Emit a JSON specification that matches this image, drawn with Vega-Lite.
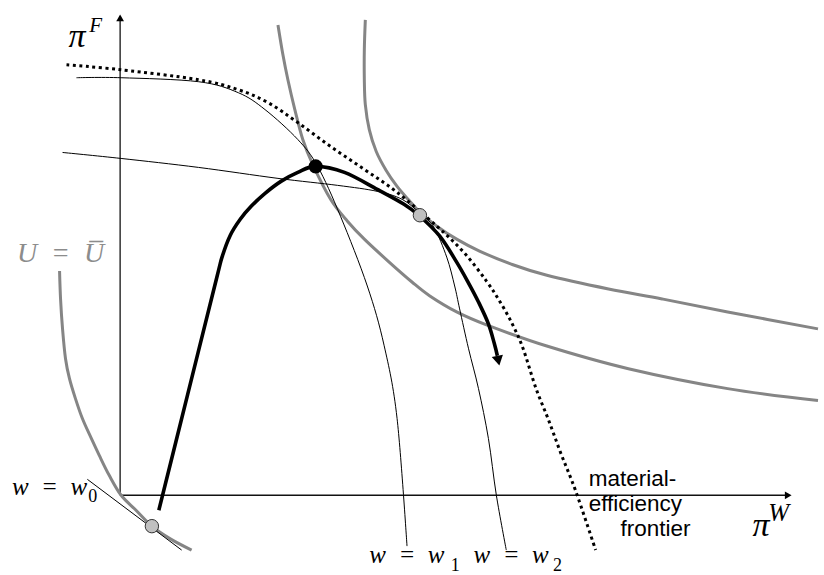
{
  "$schema": "https://vega.github.io/schema/vega-lite/v6.json",
  "width": 824,
  "height": 575,
  "autosize": {"type": "fit", "contains": "padding"},
  "padding": 0,
  "background": "white",
  "config": {"view": {"stroke": null}},
  "datasets": {
    "axes": [
      {"c": "v", "i": 0, "x": 0, "y": 0}, {"c": "v", "i": 1, "x": 0, "y": 481},
      {"c": "h", "i": 0, "x": 0, "y": 0}, {"c": "h", "i": 1, "x": 672, "y": 0}
    ],
    "gray": [
      {"c": "L", "i": 0, "x": -61, "y": 225}, {"c": "L", "i": 1, "x": -60, "y": 197}, {"c": "L", "i": 2, "x": -58, "y": 167},
      {"c": "L", "i": 3, "x": -55, "y": 137}, {"c": "L", "i": 4, "x": -51, "y": 117}, {"c": "L", "i": 5, "x": -45, "y": 97},
      {"c": "L", "i": 6, "x": -38, "y": 77}, {"c": "L", "i": 7, "x": -29, "y": 57}, {"c": "L", "i": 8, "x": -21, "y": 40},
      {"c": "L", "i": 9, "x": -11, "y": 20}, {"c": "L", "i": 10, "x": 1, "y": 0}, {"c": "L", "i": 11, "x": 16, "y": -15},
      {"c": "L", "i": 12, "x": 32, "y": -31}, {"c": "L", "i": 13, "x": 51, "y": -44}, {"c": "L", "i": 14, "x": 72, "y": -55},
      {"c": "M", "i": 0, "x": 159, "y": 472}, {"c": "M", "i": 1, "x": 164, "y": 442}, {"c": "M", "i": 2, "x": 169, "y": 417},
      {"c": "M", "i": 3, "x": 176, "y": 387}, {"c": "M", "i": 4, "x": 184, "y": 357}, {"c": "M", "i": 5, "x": 194, "y": 332},
      {"c": "M", "i": 6, "x": 212, "y": 297}, {"c": "M", "i": 7, "x": 229, "y": 275}, {"c": "M", "i": 8, "x": 246, "y": 257},
      {"c": "M", "i": 9, "x": 271, "y": 234}, {"c": "M", "i": 10, "x": 294, "y": 214}, {"c": "M", "i": 11, "x": 312, "y": 200},
      {"c": "M", "i": 12, "x": 339, "y": 184}, {"c": "M", "i": 13, "x": 369, "y": 171}, {"c": "M", "i": 14, "x": 429, "y": 150},
      {"c": "M", "i": 15, "x": 512, "y": 127}, {"c": "M", "i": 16, "x": 612, "y": 107}, {"c": "M", "i": 17, "x": 703, "y": 95},
      {"c": "R", "i": 0, "x": 247, "y": 477}, {"c": "R", "i": 1, "x": 246, "y": 447}, {"c": "R", "i": 2, "x": 246, "y": 417},
      {"c": "R", "i": 3, "x": 247, "y": 392}, {"c": "R", "i": 4, "x": 251, "y": 367}, {"c": "R", "i": 5, "x": 258, "y": 345},
      {"c": "R", "i": 6, "x": 268, "y": 326}, {"c": "R", "i": 7, "x": 279, "y": 310}, {"c": "R", "i": 8, "x": 291, "y": 296},
      {"c": "R", "i": 9, "x": 302, "y": 284}, {"c": "R", "i": 10, "x": 319, "y": 270}, {"c": "R", "i": 11, "x": 339, "y": 257},
      {"c": "R", "i": 12, "x": 362, "y": 245}, {"c": "R", "i": 13, "x": 394, "y": 232}, {"c": "R", "i": 14, "x": 429, "y": 221},
      {"c": "R", "i": 15, "x": 492, "y": 207}, {"c": "R", "i": 16, "x": 546, "y": 197}, {"c": "R", "i": 17, "x": 612, "y": 184},
      {"c": "R", "i": 18, "x": 703, "y": 167}
    ],
    "thin": [
      {"c": "w1", "i": 0, "x": -44, "y": 419}, {"c": "w1", "i": 1, "x": 1, "y": 419}, {"c": "w1", "i": 2, "x": 79, "y": 415},
      {"c": "w1", "i": 3, "x": 119, "y": 404}, {"c": "w1", "i": 4, "x": 146, "y": 387}, {"c": "w1", "i": 5, "x": 179, "y": 357},
      {"c": "w1", "i": 6, "x": 199, "y": 330}, {"c": "w1", "i": 7, "x": 222, "y": 280}, {"c": "w1", "i": 8, "x": 249, "y": 210},
      {"c": "w1", "i": 9, "x": 266, "y": 150}, {"c": "w1", "i": 10, "x": 279, "y": 77}, {"c": "w1", "i": 11, "x": 289, "y": -51},
      {"c": "w2", "i": 0, "x": -58, "y": 344}, {"c": "w2", "i": 1, "x": 1, "y": 338}, {"c": "w2", "i": 2, "x": 79, "y": 329},
      {"c": "w2", "i": 3, "x": 159, "y": 318}, {"c": "w2", "i": 4, "x": 219, "y": 311}, {"c": "w2", "i": 5, "x": 259, "y": 305},
      {"c": "w2", "i": 6, "x": 284, "y": 297}, {"c": "w2", "i": 7, "x": 302, "y": 283}, {"c": "w2", "i": 8, "x": 316, "y": 269},
      {"c": "w2", "i": 9, "x": 329, "y": 239}, {"c": "w2", "i": 10, "x": 337, "y": 210}, {"c": "w2", "i": 11, "x": 342, "y": 187},
      {"c": "w2", "i": 12, "x": 351, "y": 147}, {"c": "w2", "i": 13, "x": 361, "y": 107}, {"c": "w2", "i": 14, "x": 371, "y": 57},
      {"c": "w2", "i": 15, "x": 379, "y": 0}, {"c": "w2", "i": 16, "x": 389, "y": -55},
      {"c": "w0", "i": 0, "x": -33, "y": 16}, {"c": "w0", "i": 1, "x": 62, "y": -55}
    ],
    "frontier": [
      {"i": 0, "x": -54, "y": 432}, {"i": 1, "x": 1, "y": 427}, {"i": 2, "x": 79, "y": 417}, {"i": 3, "x": 119, "y": 407},
      {"i": 4, "x": 149, "y": 394}, {"i": 5, "x": 179, "y": 374}, {"i": 6, "x": 212, "y": 350}, {"i": 7, "x": 246, "y": 327},
      {"i": 8, "x": 279, "y": 304}, {"i": 9, "x": 319, "y": 270}, {"i": 10, "x": 346, "y": 244}, {"i": 11, "x": 369, "y": 215},
      {"i": 12, "x": 384, "y": 192}, {"i": 13, "x": 396, "y": 170}, {"i": 14, "x": 406, "y": 147}, {"i": 15, "x": 419, "y": 107},
      {"i": 16, "x": 431, "y": 77}, {"i": 17, "x": 444, "y": 42}, {"i": 18, "x": 459, "y": 4}, {"i": 19, "x": 479, "y": -55}
    ],
    "path": [
      {"i": 0, "x": 39, "y": -15}, {"i": 1, "x": 68, "y": 101}, {"i": 2, "x": 97, "y": 217}, {"i": 3, "x": 103, "y": 240},
      {"i": 4, "x": 111, "y": 261}, {"i": 5, "x": 121, "y": 277}, {"i": 6, "x": 132, "y": 290}, {"i": 7, "x": 146, "y": 303},
      {"i": 8, "x": 162, "y": 315}, {"i": 9, "x": 179, "y": 324}, {"i": 10, "x": 197, "y": 330}, {"i": 11, "x": 226, "y": 324},
      {"i": 12, "x": 259, "y": 307}, {"i": 13, "x": 286, "y": 292}, {"i": 14, "x": 302, "y": 280}, {"i": 15, "x": 322, "y": 260},
      {"i": 16, "x": 339, "y": 234}, {"i": 17, "x": 351, "y": 213}, {"i": 18, "x": 361, "y": 194}, {"i": 19, "x": 371, "y": 172},
      {"i": 20, "x": 377, "y": 152}, {"i": 21, "x": 380, "y": 140}
    ]
  },
  "encoding": {
    "x": {"field": "x", "type": "quantitative", "scale": {"domain": [-121, 703], "nice": false, "zero": false}, "axis": null},
    "y": {"field": "y", "type": "quantitative", "scale": {"domain": [-78, 497], "nice": false, "zero": false}, "axis": null}
  },
  "layer": [
    {
      "data": {"name": "axes"},
      "mark": {"type": "line", "color": "#111111", "strokeWidth": 1.3},
      "encoding": {"detail": {"field": "c"}, "order": {"field": "i"}}
    },
    {
      "data": {"values": [{"x": 0, "y": 479}]},
      "mark": {"type": "point", "shape": "triangle-up", "filled": true, "color": "#000000", "size": 60, "opacity": 1}
    },
    {
      "data": {"values": [{"x": 673, "y": 0}]},
      "mark": {"type": "point", "shape": "triangle-right", "filled": true, "color": "#000000", "size": 60, "opacity": 1}
    },
    {
      "data": {"name": "gray"},
      "mark": {"type": "line", "color": "#858585", "strokeWidth": 3, "interpolate": "cardinal"},
      "encoding": {"detail": {"field": "c"}, "order": {"field": "i"}}
    },
    {
      "data": {"name": "thin"},
      "mark": {"type": "line", "color": "#000000", "strokeWidth": 1, "interpolate": "cardinal"},
      "encoding": {"detail": {"field": "c"}, "order": {"field": "i"}}
    },
    {
      "data": {"name": "frontier"},
      "mark": {"type": "line", "color": "#000000", "strokeWidth": 3, "strokeDash": [3, 3.5], "interpolate": "cardinal"},
      "encoding": {"order": {"field": "i"}}
    },
    {
      "data": {"name": "path"},
      "mark": {"type": "line", "color": "#000000", "strokeWidth": 3.6, "interpolate": "cardinal"},
      "encoding": {"order": {"field": "i"}}
    },
    {
      "data": {"values": [{"x": 381, "y": 135}]},
      "mark": {"type": "point", "shape": "triangle-down", "filled": true, "color": "#000000", "size": 130, "angle": -12, "opacity": 1}
    },
    {
      "data": {"values": [{"x": 197, "y": 330}]},
      "mark": {"type": "point", "shape": "circle", "filled": true, "color": "#000000", "size": 200, "opacity": 1}
    },
    {
      "data": {"values": [{"x": 302, "y": 281}, {"x": 32, "y": -31}]},
      "mark": {"type": "point", "shape": "circle", "filled": true, "fill": "#c0c0c0", "stroke": "#333333", "strokeWidth": 1, "size": 180, "opacity": 1}
    },
    {
      "data": {"values": [{"t": "π", "x": -52, "y": 450}, {"t": "π", "x": 637, "y": -41}]},
      "mark": {"type": "text", "font": "Liberation Serif", "fontStyle": "italic", "fontSize": 34, "align": "left", "baseline": "alphabetic", "color": "#000000"},
      "encoding": {"text": {"field": "t"}}
    },
    {
      "data": {"values": [{"t": "F", "x": -31, "y": 465}]},
      "mark": {"type": "text", "font": "Liberation Serif", "fontStyle": "italic", "fontSize": 21, "align": "left", "baseline": "alphabetic", "color": "#000000"},
      "encoding": {"text": {"field": "t"}}
    },
    {
      "data": {"values": [{"t": "W", "x": 653, "y": -26}]},
      "mark": {"type": "text", "font": "Liberation Serif", "fontStyle": "italic", "fontSize": 25, "align": "left", "baseline": "alphabetic", "color": "#000000"},
      "encoding": {"text": {"field": "t"}}
    },
    {
      "data": {"values": [{"t": "U\u2002=\u2002U\u0305", "x": -104, "y": 234}]},
      "mark": {"type": "text", "font": "Liberation Serif", "fontStyle": "italic", "fontSize": 28, "align": "left", "baseline": "alphabetic", "color": "#8c8c8c"},
      "encoding": {"text": {"field": "t"}}
    },
    {
      "data": {"values": [{"t": "w\u2002=\u2002w", "x": -109, "y": 0}, {"t": "w\u2002=\u2002w", "x": 251, "y": -68}, {"t": "w\u2002=\u2002w", "x": 356, "y": -68}]},
      "mark": {"type": "text", "font": "Liberation Serif", "fontStyle": "italic", "fontSize": 25, "align": "left", "baseline": "alphabetic", "color": "#000000"},
      "encoding": {"text": {"field": "t"}}
    },
    {
      "data": {"values": [{"t": "0", "x": -32, "y": -7}, {"t": "1", "x": 333, "y": -76}, {"t": "2", "x": 436, "y": -76}]},
      "mark": {"type": "text", "font": "Liberation Serif", "fontSize": 18, "align": "left", "baseline": "alphabetic", "color": "#000000"},
      "encoding": {"text": {"field": "t"}}
    },
    {
      "data": {"values": [{"t": "material-", "x": 472, "y": 9}, {"t": "efficiency", "x": 472, "y": -16}, {"t": "frontier", "x": 504, "y": -41}]},
      "mark": {"type": "text", "font": "Liberation Sans", "fontSize": 22.5, "align": "left", "baseline": "alphabetic", "color": "#000000"},
      "encoding": {"text": {"field": "t"}}
    }
  ]
}
